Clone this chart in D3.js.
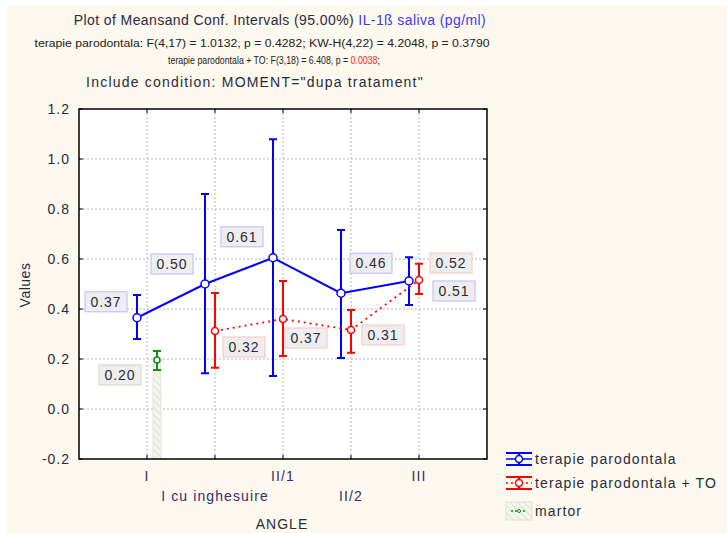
<!DOCTYPE html>
<html><head><meta charset="utf-8">
<script src="https://cdn.jsdelivr.net/npm/d3@7/dist/d3.min.js"></script>
<style>
body{margin:0;background:#fff;}
svg text{font-family:"Liberation Sans",Arial,sans-serif;}
</style></head>
<body><svg id="c" width="727" height="533"></svg>
<script>
// ---- data ----
const categories = ["I", "I cu inghesuire", "II/1", "II/2", "III"];
const yTicks = [-0.2, 0.0, 0.2, 0.4, 0.6, 0.8, 1.0, 1.2];
// terapie parodontala
const blueMean  = [0.365, 0.50, 0.605, 0.463, 0.512];
const blueLow   = [0.28, 0.143, 0.132, 0.204, 0.416];
const blueHigh  = [0.456, 0.86, 1.079, 0.716, 0.607];
const blueLabel = ["0.37", "0.50", "0.61", "0.46", "0.51"];
// terapie parodontala + TO (no value for I)
const redCats   = ["I cu inghesuire", "II/1", "II/2", "III"];
const redMean   = [0.312, 0.36, 0.316, 0.516];
const redLow    = [0.165, 0.212, 0.225, 0.46];
const redHigh   = [0.464, 0.512, 0.396, 0.581];
const redLabel  = ["0.32", "0.37", "0.31", "0.52"];
// martor
const greenCats  = ["I"];
const greenMean  = [0.196];
const greenLow   = [0.156];
const greenHigh  = [0.232];
const greenLabel = ["0.20"];

const seriesNames = ["terapie parodontala", "terapie parodontala + TO", "martor"];

// ---- layout ----
const svg = d3.select("#c");
const L = 79, R = 487, T = 109, B = 459;
const BLUE = "#0000ff", RED = "#ff0000", GREEN = "#109010";
const TXT = "#2a2a40";

svg.append("rect").attr("x",7).attr("y",6).attr("width",720).attr("height",527).attr("fill","#fdf9ee");

const defs = svg.append("defs");
const pat = defs.append("pattern").attr("id","hatch").attr("patternUnits","userSpaceOnUse")
  .attr("width",5).attr("height",5).attr("patternTransform","rotate(-45)");
pat.append("rect").attr("width",5).attr("height",5).attr("fill","#f4f6ee");
pat.append("line").attr("x1",0).attr("y1",0).attr("x2",0).attr("y2",5).attr("stroke","#d4dcc8").attr("stroke-width",1.5);

const x = d3.scalePoint().domain(categories).range([L, R]).padding(1);
const y = d3.scaleLinear().domain([-0.2, 1.2]).range([B, T]);

// plot area
svg.append("rect").attr("x",L).attr("y",T).attr("width",R-L).attr("height",B-T).attr("fill","#fff");

// grid
const grid = svg.append("g").attr("stroke","#b8b8b8").attr("stroke-dasharray","2,2").attr("stroke-width",1);
yTicks.filter(v => v > -0.2 && v < 1.2).forEach(v => {
  grid.append("line").attr("x1",L).attr("x2",R).attr("y1",y(v)).attr("y2",y(v));
});
categories.forEach(c => {
  grid.append("line").attr("x1",x(c)).attr("x2",x(c)).attr("y1",T).attr("y2",B);
});

// axes
const yAxis = d3.axisLeft(y).tickValues(yTicks).tickFormat(d => d.toFixed(1)).tickSize(0).tickPadding(9);
const gy = svg.append("g").attr("transform",`translate(${L},0)`).call(yAxis);
gy.select(".domain").remove();
gy.selectAll("text").attr("font-size",14).attr("letter-spacing",1).attr("fill",TXT);

const xAxis = d3.axisBottom(x).tickSize(0).tickFormat("");
const gx = svg.append("g").attr("transform",`translate(0,${B})`).call(xAxis);
gx.select(".domain").remove();
categories.forEach((c,i) => {
  svg.append("text").attr("x",x(c)).attr("y", i%2===0 ? 481 : 501)
    .attr("text-anchor","middle").attr("font-size",14).attr("letter-spacing",1.1).attr("fill","#3a2a6a").text(c);
});
// inward tick marks
categories.forEach(c => {
  svg.append("line").attr("x1",x(c)).attr("x2",x(c)).attr("y1",B).attr("y2",B-4).attr("stroke","#000");
  svg.append("line").attr("x1",x(c)).attr("x2",x(c)).attr("y1",T).attr("y2",T+4).attr("stroke","#000");
});
yTicks.forEach(v => {
  svg.append("line").attr("x1",L).attr("x2",L+4).attr("y1",y(v)).attr("y2",y(v)).attr("stroke","#000");
  svg.append("line").attr("x1",R).attr("x2",R-4).attr("y1",y(v)).attr("y2",y(v)).attr("stroke","#000");
});

svg.append("text").attr("x",282).attr("y",529).attr("text-anchor","middle").attr("font-size",14)
  .attr("letter-spacing",1).attr("fill",TXT).text("ANGLE");
svg.append("text").attr("transform","translate(30,285) rotate(-90)").attr("text-anchor","middle")
  .attr("font-size",14).attr("letter-spacing",0.5).attr("fill",TXT).text("Values");

// green bar (martor)
greenCats.forEach((c,i) => {
  svg.append("rect").attr("x",x(c)+10-4).attr("width",8).attr("y",y(greenMean[i])).attr("height",B-y(greenMean[i]))
    .attr("fill","url(#hatch)").attr("stroke","#dde4d2").attr("stroke-width",0.8);
});

function drawSeries(cats, mean, low, high, off, color, lw, dash, r, cap) {
  const g = svg.append("g");
  const line = d3.line().x((d,i)=>x(cats[i])+off).y(d=>y(d));
  g.append("path").datum(mean).attr("d",line).attr("fill","none").attr("stroke",color)
    .attr("stroke-width",lw).attr("stroke-dasharray",dash);
  cats.forEach((c,i) => {
    const cx = x(c)+off;
    g.append("line").attr("x1",cx).attr("x2",cx).attr("y1",y(low[i])).attr("y2",y(high[i])).attr("stroke",color).attr("stroke-width",2);
    [low[i], high[i]].forEach(v => g.append("line").attr("x1",cx-cap).attr("x2",cx+cap).attr("y1",y(v)).attr("y2",y(v)).attr("stroke",color).attr("stroke-width",2));
    g.append("circle").attr("cx",cx).attr("cy",y(mean[i])).attr("r",r).attr("fill","#fff").attr("stroke",color).attr("stroke-width",1.5);
  });
}
drawSeries(categories, blueMean, blueLow, blueHigh, -10, BLUE, 2, null, 4, 4);
drawSeries(redCats, redMean, redLow, redHigh, 0, RED, 1.8, "2,4", 3.5, 4);
drawSeries(greenCats, greenMean, greenLow, greenHigh, 10, GREEN, 1.5, "3,2", 3, 4);

// value labels
function label(cx, cy, txt, border) {
  const g = svg.append("g");
  g.append("rect").attr("x",cx-21).attr("y",cy-10).attr("width",42).attr("height",20)
    .attr("fill","#eeeeee").attr("stroke",border).attr("stroke-width",1.2);
  g.append("text").attr("x",cx).attr("y",cy+5).attr("text-anchor","middle").attr("font-size",14)
    .attr("letter-spacing",1).attr("fill","#2a2a3a").text(txt);
}
const blueOff = [[-31,-16],[-33,-20],[-31,-21],[30,-30],[45,10]];
const redOff = [[29,16],[23,19],[32,5],[32,-17]];
const greenOff = [[-37,15]];
categories.forEach((c,i)=>label(x(c)-10+blueOff[i][0], y(blueMean[i])+blueOff[i][1], blueLabel[i], "#c4c4ff"));
redCats.forEach((c,i)=>label(x(c)+redOff[i][0], y(redMean[i])+redOff[i][1], redLabel[i], "#ffc8c8"));
greenCats.forEach((c,i)=>label(x(c)+10+greenOff[i][0], y(greenMean[i])+greenOff[i][1], greenLabel[i], "#cfdcc4"));

// frame
svg.append("rect").attr("x",L).attr("y",T).attr("width",R-L).attr("height",B-T).attr("fill","none").attr("stroke","#000").attr("stroke-width",1.5);

// titles
const t1 = svg.append("text").attr("x",280).attr("y",25).attr("text-anchor","middle").attr("font-size",14)
  .attr("letter-spacing",0.4).attr("fill",TXT);
t1.append("tspan").text("Plot of Meansand Conf. Intervals (95.00%) ");
t1.append("tspan").attr("fill","#3c3cf0").text("IL-1ß saliva (pg/ml)");
svg.append("text").attr("x",262).attr("y",47).attr("text-anchor","middle").attr("font-size",10).attr("fill","#222")
  .attr("textLength",455).attr("lengthAdjust","spacingAndGlyphs")
  .text("terapie parodontala:  F(4,17) = 1.0132, p = 0.4282; KW-H(4,22) = 4.2048, p = 0.3790");
const t3g = svg.append("g");
const t3 = t3g.append("text").attr("x",0).attr("y",0).attr("text-anchor","middle").attr("font-size",10).attr("fill","#222");
t3.append("tspan").text("terapie parodontala + TO:  F(3,18) = 6.408, p = ");
t3.append("tspan").attr("fill","#ff2020").text("0.0038");
t3.append("tspan").text(";");
const w3 = t3.node().getComputedTextLength() || 240;
t3g.attr("transform",`translate(274,64) scale(${212/w3},1)`);
svg.append("text").attr("x",255).attr("y",87).attr("text-anchor","middle").attr("font-size",14).attr("fill",TXT)
  .attr("letter-spacing",1.2).text("Include condition: MOMENT=\"dupa tratament\"");

// legend
const lg = svg.append("g");
function legSym(yc, color, dash, r) {
  lg.append("line").attr("x1",506).attr("x2",532).attr("y1",yc-6).attr("y2",yc-6).attr("stroke",color).attr("stroke-width",2);
  lg.append("line").attr("x1",506).attr("x2",532).attr("y1",yc+6).attr("y2",yc+6).attr("stroke",color).attr("stroke-width",2);
  lg.append("line").attr("x1",519).attr("x2",519).attr("y1",yc-6).attr("y2",yc+6).attr("stroke",color).attr("stroke-width",2);
  lg.append("line").attr("x1",506).attr("x2",532).attr("y1",yc).attr("y2",yc).attr("stroke",color).attr("stroke-width",1.5).attr("stroke-dasharray",dash);
  lg.append("circle").attr("cx",519).attr("cy",yc).attr("r",r).attr("fill","#fff").attr("stroke",color).attr("stroke-width",1.5);
}
legSym(459, BLUE, null, 3.5);
legSym(483, RED, "2,3", 3.5);
lg.append("rect").attr("x",506).attr("y",502).attr("width",26).attr("height",18).attr("fill","url(#hatch)").attr("stroke","#dde4d2");
lg.append("line").attr("x1",511).attr("x2",527).attr("y1",511).attr("y2",511).attr("stroke",GREEN).attr("stroke-dasharray","2,2").attr("stroke-width",1.5);
lg.append("circle").attr("cx",519).attr("cy",511).attr("r",1.5).attr("fill","#fff").attr("stroke",GREEN);
seriesNames.forEach((n,i)=>{
  lg.append("text").attr("x",535).attr("y",[464,488,516][i]).attr("font-size",14).attr("letter-spacing",1.1)
    .attr("fill",TXT).text(n);
});
</script></body></html>
